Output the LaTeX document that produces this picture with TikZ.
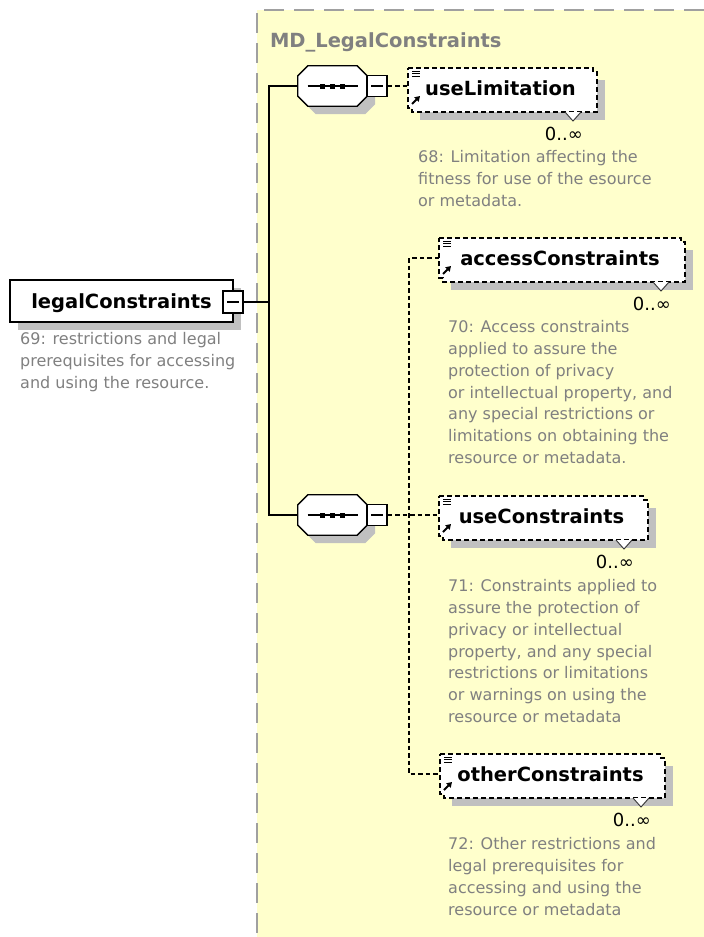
\documentclass[tikz,border=0pt]{standalone}
\usepackage{fontspec}
\setmainfont{DejaVu Sans}
\usetikzlibrary{arrows.meta,calc}
\pgfdeclarelayer{back}\pgfdeclarelayer{mid}
\pgfsetlayers{back,mid,main}
\definecolor{yel}{RGB}{255,255,204}
\definecolor{bordergray}{RGB}{160,160,160}
\definecolor{shgray}{RGB}{192,192,192}
\definecolor{descgray}{RGB}{128,128,128}
\definecolor{titlegray}{RGB}{128,128,128}
\tikzset{
 lbl/.style={inner sep=0pt, outer sep=0pt, font=\fontsize{19.5}{23}\selectfont\bfseries, text height=14.2pt, text depth=0pt},
 desc/.style={inner sep=0pt, anchor=north west, align=left, text=descgray, font=\fontsize{16}{21.9}\selectfont},
 mult/.style={inner sep=0pt, anchor=base east, font=\fontsize{18}{20}\selectfont},
 conn/.style={line width=1.3pt, dash pattern=on 4.5pt off 3pt},
 solidline/.style={line width=1.3pt},
 minusbox/.style={draw, fill=white, line width=1.3pt, minimum width=20pt, minimum height=21pt, inner sep=0pt},
 elemdash/.style={line width=1.3pt, dash pattern=on 5pt off 3pt},
}
\newcommand\xsOctPath[4]{%
 \path[#4] ([shift={(#2pt+10pt,-#3pt)}]#1.north west) -- ([shift={(#2pt-10pt,-#3pt)}]#1.north east) -- ([shift={(#2pt,-#3pt-10pt)}]#1.north east) -- ([shift={(#2pt,-#3pt+10pt)}]#1.south east) -- ([shift={(#2pt-10pt,-#3pt)}]#1.south east) -- ([shift={(#2pt+10pt,-#3pt)}]#1.south west) -- ([shift={(#2pt,-#3pt+10pt)}]#1.south west) -- ([shift={(#2pt,-#3pt-10pt)}]#1.north west) -- cycle;}
\newcommand\xsOct[1]{%
 \begin{pgfonlayer}{mid}
 \xsOctPath{#1}{8}{8}{fill=shgray}
 \xsOctPath{#1}{0}{0}{fill=white,draw=black,line width=1.3pt}
 \end{pgfonlayer}
 \draw[line width=1.3pt] ([xshift=-25pt]#1.center) -- ([xshift=25pt]#1.center);
 \foreach \d in {-10,0,10} \fill ([xshift=\d pt]#1.center) ++(-2.5,-2.5) rectangle ++(5,5);
}
\newcommand\xsMinus[1]{\draw[line width=1.2pt] ([xshift=-6pt]#1.center) -- ([xshift=6pt]#1.center);}
\newcommand\xsElem[1]{%
 \begin{pgfonlayer}{mid}
 \fill[shgray] ([shift={(12pt,-12pt)}]#1.north west) rectangle ([shift={(12pt,-12pt)}]#1.south east);
 \fill[white] (#1.north west) -- (#1.north east) -- ++(0,4) -- ++(4,0) -- ([shift={(4pt,-4pt)}]#1.south east) -- ([shift={(4pt,-4pt)}]#1.south west) -- ++(0,-4) -- ++(-4,0) -- cycle;
 \end{pgfonlayer}
 \draw[elemdash] (#1.north west) -- (#1.north east) -- ++(0,4) -- ++(4,0) -- ([shift={(4pt,-4pt)}]#1.south east) -- ([shift={(4pt,-4pt)}]#1.south west) -- ++(0,-4) -- ++(-4,0) -- cycle;
 \foreach \k in {3,5.5,8} \draw[line width=1pt] ([shift={(4pt,-\k pt)}]#1.north west) -- ++(8,0);
 \draw[line width=1.8pt, -{Triangle[length=5pt,width=6pt]}] ([shift={(4pt,4pt)}]#1.south west) -- ++(8,-8);
 \filldraw[fill=white, draw=black!80, line width=0.9pt] ([shift={(-28pt,-4pt)}]#1.south east) -- ++(8,9) -- ++(8,-9);
 \node[mult] (#1m) at ([shift={(-10pt,-52pt)}]#1.east) {0..∞};
}
\begin{document}
\begin{tikzpicture}[x=1pt,y=-1pt]
\useasboundingbox (0,0) rectangle (704,937);
\begin{pgfonlayer}{back}
 \fill[white] (0,0) rectangle (704,937);
 \fill[yel] (257,10) rectangle (704,937);
 \draw[bordergray, line width=2pt, dash pattern=on 20pt off 10pt] (704,10) -- (257,10) -- (257,937);
\end{pgfonlayer}
\node[lbl, text=titlegray, anchor=base west] (title) at (270,47) {MD\_LegalConstraints};

% root element
\node[lbl, draw, fill=white, line width=1.3pt, minimum width=223pt, minimum height=42pt] (lc) at (121.5,301) {legalConstraints};
\begin{pgfonlayer}{mid}\fill[shgray] ([shift={(8pt,-8pt)}]lc.north west) rectangle ([shift={(8pt,-8pt)}]lc.south east);\end{pgfonlayer}
\node[minusbox, minimum height=22pt] (lcm) at (233,302) {};
\xsMinus{lcm}
\node[desc] (lcd) at (20,332) {69: restrictions and legal\\prerequisites for accessing\\and using the resource.};

% sequences
\node[inner sep=0pt, minimum width=69pt, minimum height=40pt] (s1) at (332.5,86) {};
\xsOct{s1}
\node[minusbox] (s1m) at (377,86) {};
\xsMinus{s1m}
\node[inner sep=0pt, minimum width=69pt, minimum height=40pt] (s2) at (332.5,515) {};
\xsOct{s2}
\node[minusbox] (s2m) at (377,515) {};
\xsMinus{s2m}

% elements
\node[lbl, minimum width=185pt, minimum height=40pt] (ul) at (500.5,88) {useLimitation};
\xsElem{ul}
\node[desc] (uld) at (418,150) {68: Limitation affecting the\\fitness for use of the esource\\or metadata.};

\node[lbl, minimum width=242pt, minimum height=40pt] (ac) at (560,258) {accessConstraints};
\xsElem{ac}
\node[desc] (acd) at (448,320) {70: Access constraints\\applied to assure the\\protection of privacy\\or intellectual property, and\\any special restrictions or\\limitations on obtaining the\\resource or metadata.};

\node[lbl, minimum width=205pt, minimum height=40pt] (uc) at (541.5,516) {useConstraints};
\xsElem{uc}
\node[desc] (ucd) at (448,579) {71: Constraints applied to\\assure the protection of\\privacy or intellectual\\property, and any special\\restrictions or limitations\\or warnings on using the\\resource or metadata};

\node[lbl, minimum width=221pt, minimum height=40pt] (oc) at (550.5,774) {otherConstraints};
\xsElem{oc}
\node[desc] (ocd) at (448,837) {72: Other restrictions and\\legal prerequisites for\\accessing and using the\\resource or metadata};

% connectors
\coordinate (tt) at (269,86);
\coordinate (tb) at (269,515);
\coordinate (tm) at (269,302);
\coordinate (dv) at (409,515);
\draw[solidline] (s1.west) -- (tt) -- (tb) -- (s2.west);
\draw[solidline] (lcm.east) -- (tm);
\draw[conn] (s1m.east) -- (s1m.east -| ul.west);
\draw[conn] (s2m.east) -- (s2m.east -| uc.west);
\draw[conn] (ac.west) -- (ac.west -| dv) -- (oc.west -| dv) -- (oc.west);
\end{tikzpicture}
\end{document}
